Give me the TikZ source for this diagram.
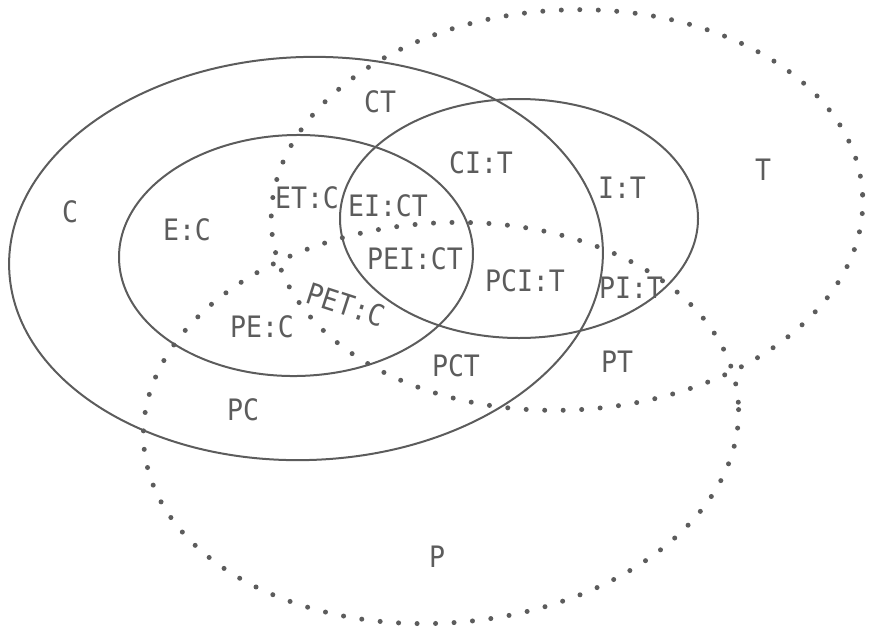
\documentclass[tikz,border=0pt]{standalone}
\usepackage{fontspec}
\newfontfamily\labfont[FakeStretch=0.9]{DejaVu Sans Mono}
\definecolor{ink}{RGB}{92,92,92}
\tikzset{
  solidset/.style={draw=ink, line width=2pt},
  dotset/.style={draw=ink, line width=5pt, line cap=round, dash pattern=on 0pt off 18.5pt},
  lab/.style={text=ink, inner sep=0pt, font=\labfont\fontsize{29.5}{30}\selectfont}
}
\begin{document}
\begin{tikzpicture}[x=1pt,y=1pt]
\useasboundingbox (0,0) rectangle (878,-630);
% solid sets
\draw[solidset, rotate around={2:(306,-258.5)}] (306,-258.5) ellipse [x radius=297, y radius=201.5];
\draw[solidset, rotate around={1:(296,-255.5)}] (296,-255.5) ellipse [x radius=177, y radius=120.5];
\draw[solidset] (519,-218.5) ellipse [x radius=179, y radius=119.5];
% dotted sets
\draw[dotset, rotate around={3:(567,-210)}] (567,-210) ellipse [x radius=296, y radius=200];
\draw[dotset, rotate around={4:(441,-423)}] (441,-423) ellipse [x radius=298, y radius=200];
% labels
\node[lab] (lC) at (70,-212) {C};
\node[lab] (lEC) at (187,-230) {E:C};
\node[lab] (lETC) at (307,-198) {ET:C};
\node[lab] (lEICT) at (388,-206) {EI:CT};
\node[lab] (lCT) at (380,-102) {CT};
\node[lab] (lCIT) at (481,-163) {CI:T};
\node[lab] (lIT) at (622,-188) {I:T};
\node[lab] (lT) at (763,-170) {T};
\node[lab] (lPEICT) at (415,-259) {PEI:CT};
\node[lab] (lPCIT) at (525,-281) {PCI:T};
\node[lab] (lPIT) at (631,-288) {PI:T};
\node[lab, rotate=-18] (lPETC) at (346,-305) {PET:C};
\node[lab] (lPEC) at (262,-327) {PE:C};
\node[lab] (lPCT) at (456,-366) {PCT};
\node[lab] (lPT) at (617,-362) {PT};
\node[lab] (lPC) at (243,-410) {PC};
\node[lab] (lP) at (437,-557) {P};
\end{tikzpicture}
\end{document}
